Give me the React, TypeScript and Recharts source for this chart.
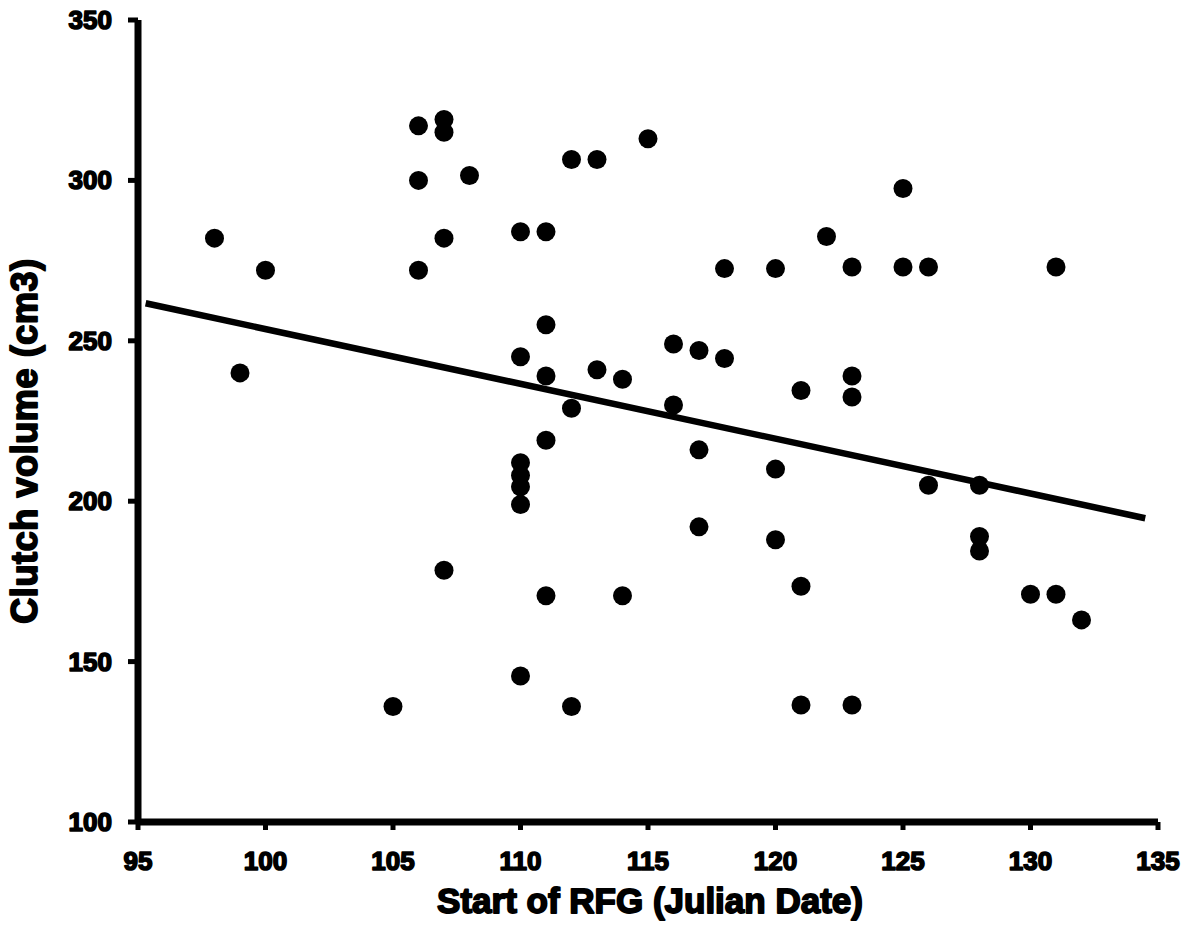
import React from 'react'
import { ScatterChart, Scatter, XAxis, YAxis, Label } from 'recharts'

// Start of RFG (Julian date) and clutch volume (cm3)
const julianDates = [
  98, 99, 100, 105, 106, 106, 106, 107, 107, 107, 107, 108,
  110, 110, 110, 110, 110, 110, 110, 111, 111, 111, 111, 111,
  112, 112, 112, 113, 113, 114, 114, 115, 116, 116, 117, 117, 117,
  118, 118, 120, 120, 120, 121, 121, 121, 122, 123, 123, 123, 123,
  125, 125, 126, 126, 128, 128, 128, 130, 131, 131, 132,
]
const clutchVolumes = [
  282, 240, 272, 136, 317, 300, 272, 319, 315, 282, 178.5, 301.5,
  284, 245, 212, 208, 204.5, 199, 145.5, 284, 255, 239, 219, 170.5,
  306.5, 229, 136, 306.5, 241, 238, 170.5, 313, 249, 230, 247, 216, 192,
  272.5, 244.5, 272.5, 210, 188, 234.5, 173.5, 136.5, 282.5, 273, 239, 232.5, 136.5,
  297.5, 273, 273, 205, 205, 189, 184.5, 171, 273, 171, 163,
]

// fitted line end points as drawn
const trendDates = [95.3, 134.5]
const trendVolumes = [261.7, 194.7]

const xTicks = [95, 100, 105, 110, 115, 120, 125, 130, 135]
const yTicks = [100, 150, 200, 250, 300, 350]

const points = julianDates.map((x, i) => ({ x, y: clutchVolumes[i] }))
const trend = trendDates.map((x, i) => ({ x, y: trendVolumes[i] }))

const FONT = '"Liberation Sans", Arial, sans-serif'
const heavy = { fontFamily: FONT, fontWeight: 700, fill: '#000', stroke: '#000', strokeLinejoin: 'round' as const }

// baseline of the x tick labels
const X_TICK_BASELINE = 870

function XTick(props: any) {
  const { x, payload } = props
  return (
    <g>
      <text x={Number(x)} y={X_TICK_BASELINE} textAnchor="middle" fontSize={26} strokeWidth={1.6} style={heavy}>
        {payload.value}
      </text>
    </g>
  )
}

function YTick(props: any) {
  const { x, y, payload } = props
  return (
    <g>
      <text x={Number(x)} y={Number(y) + 9} textAnchor="end" fontSize={26} strokeWidth={1.6} style={heavy}>
        {payload.value}
      </text>
    </g>
  )
}

function Dot(props: { cx?: number; cy?: number }) {
  if (props.cx == null || props.cy == null) return null
  return <circle cx={props.cx} cy={props.cy} r={9.5} fill="#000" />
}

function XTitle() {
  return (
    <text x={650} y={913} textAnchor="middle" fontSize={35} strokeWidth={1.8} style={heavy}>
      Start of RFG (Julian Date)
    </text>
  )
}

function YTitle() {
  return (
    <text
      x={37}
      y={441}
      transform="rotate(-90 37 441)"
      textAnchor="middle"
      fontSize={36}
      letterSpacing={0.6}
      strokeWidth={1.8}
      style={heavy}
    >
      Clutch volume (cm3)
    </text>
  )
}

export default function App() {
  return (
    <div style={{ position: 'absolute', left: 0, top: 0, background: '#fff' }}>
      <ScatterChart width={1199} height={943} margin={{ top: 20, right: 41, bottom: 0, left: 0 }}>
        <XAxis
          type="number"
          dataKey="x"
          domain={[95, 135]}
          ticks={xTicks}
          allowDataOverflow
          height={121}
          tick={<XTick />}
          tickSize={8}
          axisLine={{ stroke: '#000', strokeWidth: 7 }}
          tickLine={{ stroke: '#000', strokeWidth: 5 }}
        >
          <Label content={<XTitle />} />
        </XAxis>
        <YAxis
          type="number"
          dataKey="y"
          domain={[100, 350]}
          ticks={yTicks}
          allowDataOverflow
          width={138}
          tick={<YTick />}
          tickSize={10}
          tickMargin={16}
          axisLine={{ stroke: '#000', strokeWidth: 7 }}
          tickLine={{ stroke: '#000', strokeWidth: 5 }}
        >
          <Label content={<YTitle />} />
        </YAxis>
        <Scatter
          data={trend}
          line={{ stroke: '#000', strokeWidth: 6.5 }}
          lineType="joint"
          shape={() => <g />}
          isAnimationActive={false}
        />
        <Scatter data={points} shape={<Dot />} isAnimationActive={false} />
      </ScatterChart>
    </div>
  )
}
